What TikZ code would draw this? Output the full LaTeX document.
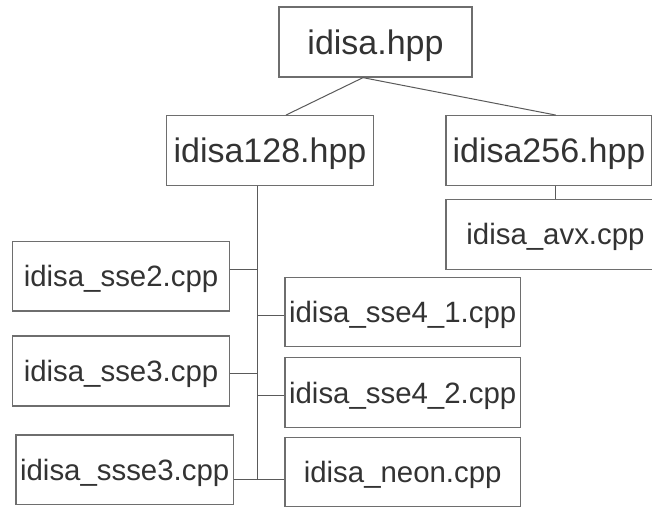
\documentclass[tikz,border=0pt]{standalone}
\usepackage{fontspec}
\setmainfont{Liberation Sans}
\definecolor{boxgray}{HTML}{6E6E6E}
\definecolor{linegray}{HTML}{5A5A5A}
\definecolor{textgray}{HTML}{333333}
\tikzset{
  filebox/.style={draw=boxgray, line width=1.3pt, rectangle, inner sep=0pt,
    text=textgray, text depth=0pt, anchor=center},
  bigfile/.style={filebox, font=\fontsize{34}{40}\selectfont},
  smallfile/.style={filebox, font=\fontsize{29.4}{35}\selectfont},
  link/.style={draw=linegray, line width=1pt}
}
\begin{document}
\begin{tikzpicture}[x=1pt, y=-1pt]
  \useasboundingbox (0,0) rectangle (652,506);
  \fill[white] (0,0) rectangle (652,506);
  \clip (0,0) rectangle (652,506);

  % headers
  \node[bigfile, minimum width=193pt, minimum height=70pt] (top) at (375.5,42) {idisa.hpp};
  \node[bigfile, minimum width=206.6pt, minimum height=69.6pt] (i128) at (270,150.5) {idisa128.hpp};
  \node[bigfile, minimum width=206pt, minimum height=69.6pt] (i256) at (549,150.5) {idisa256.hpp};

  % implementation files
  \node[smallfile, minimum width=219pt, minimum height=70pt] (avx) at (555.5,234.3) {idisa\_avx.cpp};
  \node[smallfile, minimum width=216.6pt, minimum height=69.3pt] (sse2) at (121,276.3) {idisa\_sse2.cpp};
  \node[smallfile, minimum width=216.6pt, minimum height=70pt] (sse3) at (121,371) {idisa\_sse3.cpp};
  \node[smallfile, minimum width=217.3pt, minimum height=69.3pt] (ssse3) at (124.7,469.7) {idisa\_ssse3.cpp};
  \node[smallfile, minimum width=235.3pt, minimum height=69pt] (s41) at (402.7,311.8) {idisa\_sse4\_1.cpp};
  \node[smallfile, minimum width=235.3pt, minimum height=69.6pt] (s42) at (402.7,392.5) {idisa\_sse4\_2.cpp};
  \node[smallfile, minimum width=235.3pt, minimum height=69.4pt] (neon) at (402.7,472) {idisa\_neon.cpp};

  % top-level links
  \draw[link] ([xshift=-12.5pt]top.south) -- ([xshift=16pt]i128.north);
  \draw[link] ([xshift=-12.5pt]top.south) -- ([xshift=6.7pt]i256.north);
  \draw[link] ([xshift=6.7pt]i256.south) -- ([xshift=0.2pt]avx.north);

  % trunk under idisa128.hpp
  \coordinate (tt) at ([xshift=-12.7pt]i128.south);
  \coordinate (tb) at (257.3,479);
  \draw[link] (tt) -- (tb);

  \draw[link] ([yshift=7pt]sse2.east) -| (tt);
  \draw[link] ([yshift=-2.3pt]sse3.east) -| (tt);
  \draw[link] ([yshift=-3.9pt]s41.west) -| (tt);
  \draw[link] ([yshift=-3pt]s42.west) -| (tt);
  \draw[link] ([yshift=-9.3pt]ssse3.east) -- (tb);
  \draw[link] ([yshift=-7pt]neon.west) -- (tb);
\end{tikzpicture}
\end{document}
